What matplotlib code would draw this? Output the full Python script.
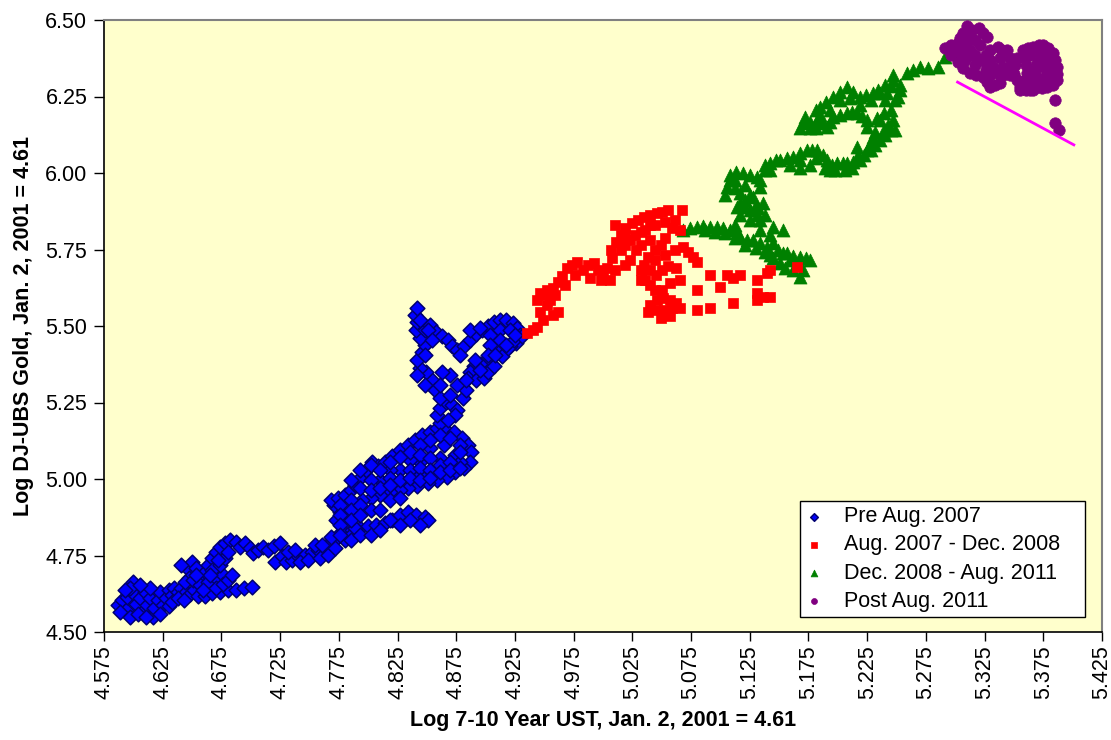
import matplotlib
matplotlib.use("Agg")
import matplotlib.pyplot as plt
from matplotlib import font_manager

# ---------------- data ----------------
pre_x = [4.587,4.590,4.594,4.595,4.600,4.600,4.597,4.602,4.606,4.607,4.610,4.612,4.614,4.617,4.618,4.621,4.623,4.625,4.628,4.630,
         4.633,4.635,4.638,4.641,4.645,4.648,4.652,4.655,4.661,4.667,4.674,4.681,4.687,4.694,4.701,4.647,4.650,4.653,4.647,4.657,
         4.661,4.664,4.667,4.670,4.674,4.678,4.682,4.687,4.691,4.695,4.699,4.702,4.706,4.710,4.715,4.720,4.725,4.721,4.727,4.730,
         4.735,4.740,4.746,4.752,4.757,4.763,4.768,4.772,4.776,4.779,4.783,4.786,4.773,4.776,4.771,4.768,4.774,4.780,4.785,4.786,
         4.793,4.800,4.807,4.814,4.820,4.827,4.834,4.841,4.848,4.851,4.789,4.793,4.798,4.803,4.808,4.814,4.820,4.827,4.834,4.840,
         4.846,4.853,4.859,4.866,4.873,4.880,4.885,4.888,4.887,4.882,4.874,4.867,4.859,4.851,4.842,4.834,4.827,4.819,4.810,4.802,
         4.795,4.789,4.810,4.827,4.844,4.861,4.874,4.878,4.819,4.836,4.853,4.865,4.844,4.861,4.859,4.861,4.866,4.871,4.876,4.881,
         4.883,4.876,4.870,4.863,4.854,4.849,4.844,4.842,4.846,4.848,4.844,4.841,4.842,4.840,4.842,4.848,4.853,4.858,4.863,4.868,
         4.871,4.876,4.882,4.887,4.892,4.897,4.902,4.907,4.912,4.917,4.923,4.927,4.929,4.926,4.921,4.916,4.911,4.906,4.900,4.895,
         4.890,4.887,4.885,4.892,4.899,4.902,4.907,4.914,4.919,4.924,4.931,
         4.589,4.597,4.604,4.611,4.623,4.630,4.633,4.638,4.643,4.614,4.593,4.606,
         4.644,4.651,4.657,4.664,4.670,4.676,4.667,4.674,4.678,4.681,4.659,4.670,4.676,4.681,4.684,4.665,4.672,4.641,4.653,
         4.732,4.738,4.742,4.749,4.755,4.759,4.766,4.772,4.780,4.785,4.789,4.761,4.768,
         4.776,4.776,4.776,4.776,4.785,4.785,4.785,4.785,4.785,4.793,4.793,4.793,4.793,4.793,
         4.802,4.802,4.802,4.802,4.802,4.810,4.810,4.810,4.810,4.819,4.819,4.819,4.819,4.819,
         4.827,4.827,4.827,4.827,4.836,4.836,4.836,4.836,4.844,4.844,4.844,4.844,4.844,
         4.853,4.853,4.853,4.853,4.861,4.861,4.861,4.870,4.870,4.870,4.878,4.878,4.878,
         4.844,4.851,4.854,4.848,4.842,4.848,4.857,4.861,4.870,4.874,4.868,4.861,
         4.887,4.895,4.904,4.912,4.921,4.912,4.904,4.902,4.908,4.917,4.925,4.895,4.891,4.878,4.883]
pre_y = [4.588,4.605,4.572,4.614,4.627,4.663,4.644,4.592,4.611,4.565,4.631,4.588,4.611,4.549,4.578,4.605,4.631,4.588,4.611,4.637,
         4.621,4.644,4.631,4.644,4.631,4.624,4.637,4.618,4.618,4.627,4.631,4.637,4.637,4.644,4.647,4.703,4.729,4.709,4.676,4.676,
         4.696,4.719,4.742,4.761,4.778,4.791,4.801,4.794,4.778,4.791,4.775,4.758,4.768,4.778,4.768,4.781,4.791,4.729,4.748,4.729,
         4.735,4.748,4.752,4.761,4.768,4.778,4.791,4.801,4.824,4.840,4.859,4.882,4.866,4.892,4.915,4.931,4.938,4.948,4.964,4.833,
         4.840,4.846,4.850,4.856,4.866,4.882,4.892,4.882,4.876,4.866,4.980,5.003,5.029,5.056,5.042,5.056,5.075,5.095,5.111,5.127,
         5.144,5.154,5.167,5.160,5.154,5.134,5.111,5.088,5.056,5.036,5.023,5.007,4.997,4.987,4.977,4.971,4.964,4.958,4.948,4.938,
         4.931,4.915,4.997,5.029,5.056,5.069,5.078,5.056,5.029,5.062,5.101,5.111,5.013,5.183,5.209,5.232,5.252,5.242,5.225,5.265,
         5.291,5.307,5.340,5.350,5.324,5.350,5.363,5.389,5.415,5.438,5.461,5.487,5.513,5.536,5.559,5.487,5.503,5.480,5.467,5.454,
         5.435,5.422,5.435,5.454,5.474,5.487,5.500,5.513,5.520,5.520,5.510,5.493,5.471,5.444,5.435,5.422,5.415,5.402,5.389,5.376,
         5.369,5.350,5.330,5.324,5.330,5.350,5.369,5.402,5.428,5.454,5.467,
         4.565,4.549,4.559,4.549,4.559,4.585,4.598,4.611,4.605,4.644,4.637,4.654,
         4.663,4.670,4.654,4.663,4.676,4.686,4.703,4.719,4.742,4.761,4.637,4.644,4.657,4.670,4.686,4.686,4.735,4.719,4.686,
         4.761,4.768,4.729,4.735,4.784,4.742,4.752,4.775,4.801,4.817,4.840,4.784,4.810,
         4.915,4.882,4.850,4.817,4.997,4.931,4.899,4.866,4.801,5.029,4.971,4.915,4.882,4.817,
         5.046,4.997,4.964,4.899,4.817,5.029,4.971,4.899,4.833,5.056,5.003,4.980,4.931,4.866,
         5.072,4.997,4.938,4.850,5.088,5.029,5.003,4.866,5.111,5.078,5.036,4.997,4.850,
         5.127,5.069,5.029,5.003,5.144,5.046,5.023,5.134,5.056,5.029,5.111,5.088,5.036,
         5.520,5.487,5.454,5.405,5.340,5.307,5.291,5.265,5.275,5.209,5.193,5.307,
         5.487,5.494,5.471,5.487,5.487,5.454,5.438,5.405,5.405,5.438,5.471,5.356,5.389,5.405,5.324]

mid_x = [4.935,4.940,4.944,4.949,4.946,4.952,4.957,4.962,4.944,4.946,4.952,4.957,4.962,4.965,4.969,4.974,4.978,4.983,4.987,4.992,
         4.996,5.000,5.006,5.003,5.008,5.007,5.011,5.015,5.019,5.025,5.030,5.035,5.040,5.046,5.050,5.055,5.067,5.059,5.053,5.049,
         5.044,5.038,5.035,5.032,5.036,5.040,5.045,5.050,5.055,5.062,5.066,5.057,5.050,5.040,5.046,5.051,5.057,5.062,5.066,5.057,
         5.052,5.068,5.072,5.077,5.080,5.091,5.106,5.111,5.117,5.100,5.080,5.091,5.080,5.111,5.131,5.131,5.131,5.136,5.142,5.140,
         5.142,5.165,5.023,5.032,5.040,5.028,5.040,5.019,
         5.010,5.019,5.027,5.036,5.044,5.053,5.061,5.066,5.015,5.023,5.032,5.044,5.053,5.061,5.040,5.032,5.044,5.019,5.010,
         5.044,5.038,5.049,5.059,4.976,4.989,4.998,4.951,4.955,4.959,4.968]
mid_y = [5.477,5.487,5.497,5.520,5.546,5.569,5.536,5.546,5.585,5.608,5.618,5.624,5.644,5.663,5.690,5.699,5.709,5.683,5.699,5.706,
         5.683,5.667,5.650,5.690,5.722,5.748,5.775,5.797,5.820,5.837,5.846,5.856,5.863,5.869,5.873,5.879,5.879,5.820,5.788,5.765,
         5.748,5.725,5.699,5.683,5.650,5.634,5.667,5.683,5.696,5.690,5.650,5.641,5.618,5.569,5.585,5.592,5.585,5.575,5.559,5.533,
         5.552,5.758,5.742,5.725,5.709,5.667,5.667,5.657,5.667,5.627,5.618,5.559,5.552,5.575,5.650,5.608,5.585,5.595,5.595,5.673,
         5.683,5.693,5.781,5.807,5.830,5.748,5.781,5.765,
         5.830,5.797,5.797,5.814,5.830,5.840,5.846,5.814,5.748,5.716,5.765,5.716,5.732,5.748,5.683,5.650,5.618,5.699,5.683,
         5.552,5.546,5.526,5.559,5.667,5.657,5.650,5.601,5.585,5.601,5.634]

qe_x = [5.068,5.074,5.080,5.085,5.091,5.097,5.102,5.108,5.114,5.117,5.123,5.128,5.134,5.140,5.145,5.149,5.153,5.157,5.162,5.168,
        5.173,5.176,5.170,5.168,5.162,5.151,5.145,5.153,5.145,5.134,5.131,5.125,5.121,5.117,5.114,5.117,5.112,5.106,5.108,5.108,
        5.113,5.119,5.125,5.131,5.134,5.128,5.136,5.132,5.138,5.142,5.147,5.151,5.157,5.162,5.168,5.174,5.178,5.182,5.187,5.191,
        5.195,5.199,5.204,5.208,5.213,5.219,5.222,5.225,5.216,5.228,5.230,5.225,5.232,5.239,5.243,5.247,5.239,5.233,5.225,5.221,
        5.216,5.212,5.208,5.202,5.196,5.193,5.191,5.187,5.182,5.176,5.170,5.181,5.185,5.190,5.196,5.202,5.208,5.213,5.219,5.224,
        5.230,5.236,5.242,5.245,5.247,5.251,5.253,5.259,5.264,5.270,5.277,5.285,5.291,5.296,5.193,5.168,5.176,
        5.104,5.112,5.121,5.125,5.134,5.138,5.142,5.159,5.168,5.181,5.189,5.198,5.206,5.212,5.217,5.228,5.232,5.236,5.240,5.245,
        5.249,5.236,5.245,5.249,5.240,5.228,5.219,5.210,5.202,5.193,5.185,5.176,5.168,5.172,5.181,5.234,5.240,5.247,5.253,
        5.087,5.095,5.104,5.112,5.121,5.130,5.138,5.142,5.159,5.164,5.155,5.117,5.125,5.121,5.130,5.112,5.134,5.142,5.138]
qe_y = [5.814,5.820,5.824,5.827,5.824,5.824,5.820,5.814,5.807,5.791,5.781,5.781,5.771,5.758,5.771,5.748,5.739,5.739,5.729,5.725,
        5.722,5.716,5.683,5.660,5.683,5.706,5.722,5.814,5.824,5.846,5.863,5.879,5.889,5.902,5.889,5.935,5.951,5.954,5.977,5.993,
        6.003,6.000,5.993,5.987,5.954,5.922,5.902,5.886,6.026,6.033,6.042,6.042,6.049,6.052,6.065,6.075,6.075,6.075,6.059,6.042,
        6.026,6.033,6.033,6.033,6.036,6.042,6.059,6.075,6.085,6.101,6.118,6.150,6.134,6.141,6.157,6.173,6.196,6.180,6.173,6.186,
        6.196,6.199,6.196,6.190,6.183,6.167,6.150,6.163,6.173,6.167,6.163,6.206,6.216,6.232,6.248,6.265,6.281,6.265,6.248,6.255,
        6.261,6.261,6.261,6.284,6.304,6.248,6.271,6.327,6.337,6.346,6.343,6.346,6.379,6.392,6.010,6.016,6.026,
        5.928,5.977,5.961,5.928,5.977,6.010,6.010,6.026,6.042,6.049,6.016,6.010,6.010,6.016,6.059,6.075,6.092,6.108,6.124,6.141,
        6.141,6.173,6.206,6.239,6.239,6.239,6.222,6.245,6.239,6.206,6.190,6.147,6.147,6.183,6.147,6.271,6.288,6.320,6.288,
        5.814,5.807,5.804,5.788,5.765,5.755,5.742,5.732,5.716,5.699,5.690,5.863,5.846,5.912,5.895,5.830,5.814,5.797,5.863]

post_x = [5.291,5.296,5.302,5.304,5.307,5.310,5.314,5.320,5.324,5.327,5.304,5.302,5.307,5.313,5.318,5.324,5.327,5.330,5.334,5.338,
          5.341,5.341,5.338,5.336,5.340,5.344,5.347,5.347,5.350,5.353,5.355,5.359,5.361,5.360,5.358,5.358,5.362,5.366,5.371,5.375,
          5.379,5.383,5.385,5.387,5.387,5.387,5.383,5.378,5.374,5.370,5.366,5.364,5.360,5.355,5.370,5.374,5.378,5.368,5.377,5.385,
          5.385,5.388,5.319,5.326,5.332,5.313,5.321,5.330,5.317,
          5.296,5.300,5.308,5.313,5.317,5.326,5.330,5.334,5.326,5.317,5.308,5.330,5.338,5.347,5.351,5.353,5.364,5.372,5.377,5.381,
          5.381,5.372,5.364,5.360,5.377,5.368,5.311,5.308,5.379]
post_y = [6.408,6.418,6.425,6.441,6.458,6.480,6.467,6.474,6.458,6.444,6.392,6.363,6.343,6.327,6.320,6.314,6.297,6.281,6.288,6.294,
          6.320,6.346,6.376,6.412,6.402,6.402,6.376,6.346,6.324,6.304,6.281,6.304,6.327,6.353,6.379,6.402,6.408,6.412,6.418,6.418,
          6.408,6.392,6.369,6.346,6.324,6.304,6.288,6.281,6.278,6.281,6.271,6.271,6.271,6.271,6.359,6.350,6.346,6.320,6.320,6.239,
          6.163,6.141,6.369,6.359,6.346,6.386,6.418,6.402,6.435,
          6.386,6.402,6.418,6.402,6.386,6.386,6.369,6.337,6.337,6.353,6.369,6.320,6.320,6.320,6.353,6.376,6.386,6.386,6.376,6.353,
          6.320,6.304,6.304,6.288,6.297,6.337,6.435,6.451,6.386]

trend_x = [5.302, 5.401]
trend_y = [6.297, 6.092]

labels = ["Pre Aug. 2007", "Aug. 2007 - Dec. 2008", "Dec. 2008 - Aug. 2011", "Post Aug. 2011"]
x_ticks = [4.575, 4.625, 4.675, 4.725, 4.775, 4.825, 4.875, 4.925, 4.975, 5.025,
           5.075, 5.125, 5.175, 5.225, 5.275, 5.325, 5.375, 5.425]
y_ticks = [4.50, 4.75, 5.00, 5.25, 5.50, 5.75, 6.00, 6.25, 6.50]

# ---------------- fonts ----------------
avail = {f.name for f in font_manager.fontManager.ttflist}
base_font = "Liberation Sans" if "Liberation Sans" in avail else "DejaVu Sans"
narrow_font = "Liberation Sans Narrow" if "Liberation Sans Narrow" in avail else base_font
plt.rcParams["font.family"] = [base_font, "DejaVu Sans"]

# ---------------- figure ----------------
fig = plt.figure(figsize=(11.11, 7.40), dpi=100)
ax = fig.add_axes([104/1111, 1 - 632/740, (1102-104)/1111, (632-20)/740])
ax.set_facecolor("#FFFFCC")

ax.scatter(pre_x, pre_y, marker="D", s=56, facecolor="#0000FF", edgecolor="#000070",
           linewidth=1.1, label=labels[0], zorder=3)
ax.scatter(mid_x, mid_y, marker="s", s=58, facecolor="#FF0000", edgecolor="#FF0000",
           linewidth=0.5, label=labels[1], zorder=4)
ax.scatter(qe_x, qe_y, marker="^", s=88, facecolor="#008000", edgecolor="#008000",
           linewidth=0.5, label=labels[2], zorder=3)
ax.scatter(post_x, post_y, marker="o", s=68, facecolor="#800080", edgecolor="#800080",
           linewidth=0.5, label=labels[3], zorder=3)
ax.plot(trend_x, trend_y, color="#FF00FF", linewidth=2.0, zorder=5)

ax.set_xlim(4.575, 5.425)
ax.set_ylim(4.50, 6.50)
ax.set_xticks(x_ticks)
ax.set_xticklabels([f"{v:.3f}" for v in x_ticks], rotation=90, fontsize=15.5)
ax.set_yticks(y_ticks)
ax.set_yticklabels([f"{v:.2f}" for v in y_ticks], fontsize=15.5)
ax.tick_params(axis="y", direction="out", length=7, width=1, color="black", pad=5)
ax.tick_params(axis="x", direction="out", length=6.5, width=1, color="black", pad=3)

for s in ["left", "bottom"]:
    ax.spines[s].set_color("black")
    ax.spines[s].set_linewidth(1.2)
for s in ["top", "right"]:
    ax.spines[s].set_color("#808080")
    ax.spines[s].set_linewidth(1.5)

ax.set_xlabel("Log 7-10 Year UST, Jan. 2, 2001 = 4.61", fontsize=15.5, fontweight="bold",
              family=[narrow_font, "DejaVu Sans"], labelpad=8)
ax.set_ylabel("Log DJ-UBS Gold, Jan. 2, 2001 = 4.61", fontsize=15.5, fontweight="bold",
              family=[narrow_font, "DejaVu Sans"], labelpad=8)

x0 = (800 - 104) / 998
w = (1085 - 800) / 998
y0 = (632 - 617) / 612
leg = ax.legend(loc="lower left", bbox_to_anchor=(x0, y0, w, 0.1), mode="expand", fontsize=15.5,
                frameon=True, fancybox=False, edgecolor="black", framealpha=1,
                handletextpad=1.0, handlelength=0.8, borderpad=0.25, labelspacing=0.33,
                markerscale=0.52, borderaxespad=0)
leg.get_frame().set_linewidth(1.0)

fig.savefig("out.png", dpi=100, facecolor="white")
